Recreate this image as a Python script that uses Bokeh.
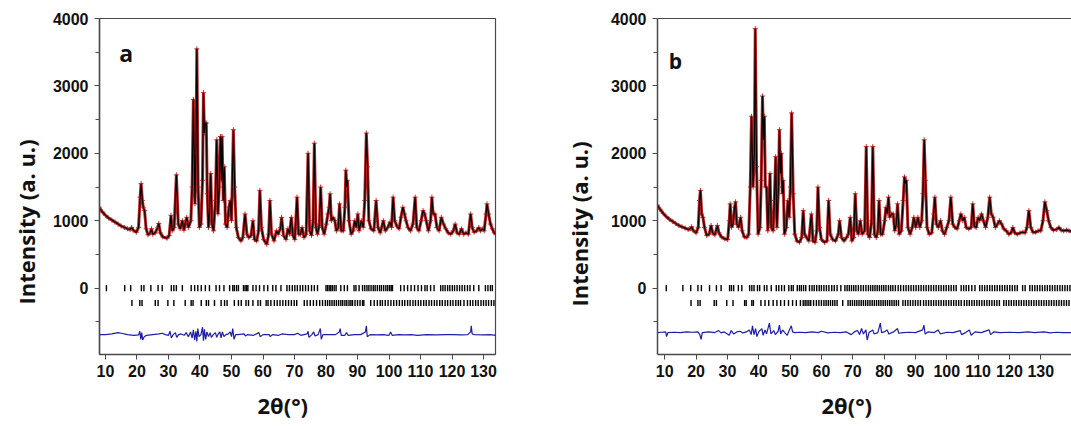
from bokeh.plotting import figure
from bokeh.layouts import row
from bokeh.models import Range1d, FixedTicker, Label, LinearAxis, Title
from bokeh.embed import file_html
from bokeh.resources import INLINE

# ---------------- Panel a data (2theta, intensity) ----------------
A_TT = [8.0, 9.0, 10.0, 11.0, 12.0, 13.0, 14.0, 15.0, 16.0, 17.0, 17.8, 18.3, 18.8, 19.8, 20.5, 21.0, 21.3, 21.7, 22.0, 22.4,
        22.9, 23.5, 24.2, 24.6, 25.0, 25.8, 26.6, 26.9, 27.4, 28.2, 29.5, 30.2, 30.8, 31.2, 31.8, 32.5, 33.1, 33.7, 34.4, 34.9,
        35.5, 35.8, 36.3, 37.1, 37.5, 37.9, 38.4, 38.7, 39.0, 39.4, 39.8, 40.3, 40.8, 41.1, 41.4, 41.7, 42.0, 42.3, 42.7, 43.1,
        43.4, 43.8, 44.3, 44.9, 45.3, 45.7, 46.1, 46.5, 46.8, 47.0, 47.4, 47.7, 48.1, 48.6, 49.2, 49.6, 50.0, 50.6, 51.0, 51.5,
        52.2, 53.0, 53.6, 54.3, 54.9, 55.5, 56.2, 56.8, 57.3, 58.0, 58.6, 59.0, 59.5, 60.2, 61.2, 61.8, 62.2, 62.7, 63.5, 64.3,
        64.8, 65.6, 65.9, 66.5, 67.3, 67.9, 68.4, 69.0, 69.5, 70.1, 70.8, 71.3, 71.9, 72.4, 73.0, 73.7, 74.3, 74.8, 75.4, 75.9,
        76.3, 76.8, 77.3, 77.9, 78.3, 78.8, 79.4, 80.1, 80.6, 81.0, 81.3, 81.7, 82.2, 82.8, 83.3, 83.9, 84.3, 84.8, 85.5, 86.0,
        86.3, 86.6, 86.8, 87.3, 88.0, 88.6, 89.1, 89.6, 90.1, 90.5, 91.2, 91.8, 92.3, 92.8, 93.2, 93.6, 94.3, 95.2, 95.9, 96.5,
        97.2, 98.2, 98.8, 99.6, 100.3, 100.8, 101.3, 101.8, 102.5, 103.2, 103.8, 104.4, 104.9, 105.4, 106.0, 106.8, 107.6, 108.3, 108.8, 109.5,
        110.2, 110.8, 111.3, 111.8, 112.5, 113.2, 113.6, 114.0, 114.6, 115.2, 115.9, 116.6, 117.3, 118.0, 118.8, 119.6, 120.4, 121.0, 121.6, 122.3,
        123.0, 123.7, 124.4, 125.2, 125.9, 126.4, 127.0, 127.8, 128.5, 129.0, 129.6, 130.2, 130.8, 131.1, 131.6, 132.2, 132.8, 133.4, 134.0]
A_OBS = [1200, 1130, 1080, 1040, 1010, 980, 950, 920, 900, 880, 870, 900, 860, 830, 900, 1350, 1550, 1300, 1200, 1150,
         880, 790, 820, 880, 800, 820, 900, 960, 820, 760, 740, 780, 1080, 850, 900, 1680, 950, 880, 1000, 860,
         1000, 1050, 900, 1000, 1500, 2800, 1250, 2000, 3550, 1500, 900, 950, 1600, 2900, 2300, 2450, 2450, 1400, 900, 1200,
         1700, 950, 850, 1300, 2200, 1100, 1500, 2250, 1600, 2250, 1300, 1800, 950, 900, 1200, 1300, 1000, 2350, 1500, 900,
         750, 700, 750, 1100, 800, 750, 780, 1000, 720, 700, 850, 1450, 900, 720, 650, 800, 1300, 800, 700, 850,
         800, 900, 1050, 780, 720, 880, 800, 1050, 780, 720, 1350, 800, 800, 900, 750, 800, 2000, 850, 780, 1000,
         2150, 900, 800, 950, 1500, 900, 800, 950, 1100, 1200, 1400, 1000, 1050, 1000, 850, 900, 1250, 850, 850, 1200,
         1750, 1500, 1600, 1000, 800, 850, 1000, 900, 1100, 850, 1000, 900, 1300, 2300, 1800, 1000, 880, 850, 1300, 900,
         820, 1000, 850, 900, 980, 900, 1350, 1000, 920, 880, 1050, 1200, 1100, 1000, 900, 850, 950, 1350, 900, 850,
         1000, 1150, 1100, 1000, 850, 1000, 1350, 1100, 1100, 900, 850, 1050, 950, 880, 820, 800, 850, 950, 820, 800,
         880, 800, 820, 800, 1100, 900, 830, 850, 900, 850, 880, 850, 1100, 1250, 1100, 950, 880, 820, 800]
A_DIFF_TT = [8, 10, 12, 14, 15, 17, 19, 20.5, 20.9, 21.2, 21.5, 21.8, 22.3, 23, 25, 27, 28, 29, 30, 30.5,
             30.9, 31.5, 32.2, 32.6, 33.2, 34, 35, 35.6, 36.3, 37.0, 37.5, 37.9, 38.3, 38.7, 39.0, 39.3, 39.7, 40.3, 40.8, 41.1,
             41.4, 41.8, 42.2, 42.7, 43.2, 43.6, 44.2, 44.9, 45.3, 45.8, 46.3, 46.7, 47.1, 47.6, 48.2, 49.0, 49.6, 50.0, 50.4, 50.8,
             51.3, 52, 54, 54.4, 55, 57, 58.7, 59.1, 60, 62, 62.3, 63, 65, 66, 68, 70, 71, 72, 74, 74.3,
             74.6, 75.5, 76.1, 76.5, 77.5, 78.2, 78.5, 79, 81, 83, 84.2, 84.5, 84.8, 86, 86.5, 87, 89, 91, 92.5, 92.8,
             93.1, 94, 96, 98, 100, 100.5, 101, 103, 105, 107, 109, 112, 115, 118, 120, 123, 125, 125.9, 126.1, 126.4,
             127, 130, 132, 134]
A_DIFF = [-690, -690, -680, -660, -670, -690, -700, -695, -640, -760, -660, -770, -720, -700, -690, -680, -670, -690, -700, -640,
          -740, -690, -660, -730, -690, -680, -700, -660, -720, -650, -740, -620, -770, -640, -790, -600, -720, -690, -580, -780,
          -610, -760, -650, -720, -660, -730, -690, -660, -730, -680, -650, -740, -650, -720, -690, -680, -650, -720, -600, -760,
          -690, -690, -680, -710, -690, -700, -660, -720, -690, -690, -720, -690, -700, -680, -690, -690, -670, -700, -680, -640,
          -730, -690, -650, -710, -690, -600, -760, -690, -690, -690, -650, -600, -700, -700, -660, -700, -690, -690, -650, -560,
          -720, -690, -695, -690, -700, -650, -700, -690, -695, -690, -700, -690, -695, -690, -690, -695, -690, -650, -560, -680,
          -690, -695, -690, -700]
A_HKL1 = [10.3, 16.1, 18.0, 21.4, 22.2, 24.4, 26.7, 28.0, 30.9, 31.7, 32.5, 34.4, 37.2, 38.3, 39.3, 40.4, 41.7, 43.0, 45.1, 46.2,
          47.6, 49.4, 50.4, 50.9, 51.6, 52.2, 53.8, 54.3, 54.8, 55.2, 56.8, 57.8, 58.9, 60.3, 61.5, 63.1, 64.1, 65.7, 67.6, 68.4,
          69.3, 70.1, 70.9, 71.8, 72.6, 73.5, 74.4, 75.4, 76.3, 77.3, 80.0, 80.5, 81.0, 81.5, 82.0, 82.6, 83.2, 84.7, 85.8, 86.8,
          88.9, 89.5, 90.5, 91.6, 92.3, 93.0, 93.6, 94.3, 95.0, 95.6, 96.3, 97.0, 97.6, 98.3, 99.0, 99.6, 100.2, 100.7, 101.1, 103.7,
          104.8, 105.9, 107.0, 108.1, 109.2, 110.3, 111.4, 112.1, 113.2, 114.3, 116.4, 117.1, 117.8, 118.6, 119.3, 120.1, 120.8, 121.6, 122.4, 123.2,
          124.0, 124.9, 125.7, 126.9, 128.5, 130.6, 131.4, 132.2, 132.8]
A_HKL2 = [18.4, 20.9, 21.6, 25.8, 26.7, 29.8, 31.7, 35.3, 37.2, 37.8, 40.4, 42.0, 42.7, 44.6, 46.7, 47.8, 48.6, 50.9, 52.2, 53.1,
          54.6, 55.4, 56.8, 58.4, 59.2, 61.0, 61.6, 62.5, 63.6, 64.5, 65.4, 66.3, 67.2, 68.1, 69.0, 69.9, 70.7, 73.1, 74.0, 75.0,
          76.0, 77.0, 78.0, 78.9, 79.8, 80.5, 81.2, 81.9, 82.6, 83.3, 84.0, 84.7, 85.3, 86.0, 86.6, 87.3, 87.9, 88.4, 89.2, 90.0,
          90.8, 91.6, 92.0, 94.2, 95.3, 96.3, 97.2, 97.9, 98.8, 99.7, 100.6, 101.5, 102.4, 103.3, 104.2, 105.0, 105.9, 106.7, 107.6, 108.4,
          109.3, 110.1, 111.0, 111.8, 112.7, 113.5, 114.4, 115.2, 116.1, 116.9, 117.8, 118.6, 119.5, 120.3, 121.2, 122.0, 122.7, 123.8, 124.9, 125.8,
          126.6, 127.5, 128.3, 129.2, 130.0, 130.8, 131.6, 132.5, 133.3]

# ---------------- Panel b data ----------------
B_TT = [7.7, 8.5, 9.5, 10.5, 11.5, 12.5, 13.5, 14.5, 15.5, 16.5, 17.5, 18.2, 18.6, 19.0, 20.0, 20.7, 21.1, 21.4, 21.8, 22.2,
        22.7, 23.4, 24.2, 24.8, 25.3, 26.0, 26.8, 27.3, 28.1, 29.2, 30.1, 30.6, 30.9, 31.3, 31.8, 32.3, 32.6, 33.0, 33.6, 34.2,
        34.7, 35.4, 36.2, 36.8, 37.3, 37.7, 38.2, 38.6, 38.9, 39.3, 39.8, 40.4, 40.8, 41.2, 41.5, 41.8, 42.1, 42.5, 42.9, 43.3,
        43.6, 44.0, 44.6, 45.0, 45.4, 45.8, 46.3, 46.6, 46.9, 47.2, 47.5, 47.8, 48.2, 48.8, 49.3, 49.7, 50.1, 50.5, 51.0, 51.5,
        52.2, 53.0, 53.7, 54.2, 54.6, 55.3, 56.0, 56.8, 57.3, 58.0, 58.5, 58.9, 59.4, 60.0, 61.0, 61.8, 62.3, 62.8, 63.6, 64.5,
        65.4, 65.8, 66.4, 67.2, 68.0, 68.6, 69.2, 69.7, 70.3, 70.8, 71.3, 71.8, 72.4, 73.0, 73.8, 74.3, 74.8, 75.4, 76.0, 76.4,
        76.9, 77.5, 78.0, 78.4, 78.9, 79.5, 80.2, 80.6, 81.0, 81.4, 81.8, 82.4, 82.9, 83.4, 83.9, 84.3, 84.8, 85.5, 86.1, 86.5,
        86.8, 87.1, 87.6, 88.3, 89.0, 89.5, 90.1, 90.8, 91.4, 92.0, 92.4, 92.8, 93.2, 93.7, 94.4, 95.2, 95.8, 96.2, 96.7, 97.3,
        98.0, 98.6, 99.3, 100.0, 100.7, 101.3, 101.9, 102.6, 103.3, 104.0, 104.5, 105.1, 105.6, 106.2, 107.0, 107.8, 108.3, 108.8, 109.4, 110.0,
        110.5, 111.1, 111.7, 112.4, 113.1, 113.7, 114.2, 114.8, 115.5, 116.2, 116.8, 117.5, 118.2, 119.0, 119.8, 120.5, 121.1, 121.7, 122.5, 123.4,
        124.3, 125.0, 125.6, 126.2, 126.8, 127.5, 128.4, 129.2, 130.0, 130.7, 131.3, 131.9, 132.5, 133.2, 134.0, 135.0, 135.8, 136.5, 137.3, 138.2,
        139.0, 139.8]
B_OBS = [1230, 1170, 1110, 1060, 1020, 990, 960, 930, 910, 890, 870, 880, 910, 860, 820, 900, 1300, 1450, 1100, 1050,
         900, 780, 800, 930, 820, 790, 930, 820, 760, 730, 720, 1000, 1250, 900, 950, 1200, 1280, 950, 900, 1050,
         850, 760, 750, 800, 1500, 2550, 1500, 2000, 3850, 1800, 800, 900, 1600, 2850, 2200, 2550, 1500, 1500, 850, 1300,
         1700, 900, 850, 1300, 1950, 900, 1500, 2350, 1700, 2000, 1400, 1600, 800, 900, 1300, 1050, 1500, 2600, 1400, 800,
         700, 680, 750, 1150, 800, 750, 700, 1100, 700, 680, 850, 1500, 900, 720, 680, 700, 1300, 800, 720, 700,
         800, 1000, 750, 700, 750, 800, 1050, 700, 750, 1400, 850, 800, 1000, 800, 850, 2100, 800, 750, 1000, 2100,
         800, 750, 850, 1300, 800, 800, 1000, 1200, 1100, 1350, 1050, 1100, 1100, 850, 950, 1250, 800, 850, 1300, 1650,
         1550, 1600, 900, 800, 900, 1050, 900, 1050, 900, 1000, 1400, 2200, 1600, 900, 800, 820, 1100, 1350, 950, 900,
         1000, 850, 800, 900, 1000, 1350, 950, 900, 880, 1000, 1100, 1000, 1050, 900, 880, 900, 1250, 920, 900, 1050,
         1000, 1100, 1000, 900, 1050, 1350, 1100, 1050, 900, 950, 1000, 950, 880, 850, 800, 820, 900, 820, 800, 820,
         830, 820, 900, 1150, 900, 830, 830, 850, 850, 1000, 1280, 1150, 1000, 900, 860, 870, 900, 860, 850, 860,
         850, 840]
B_DIFF_TT = [7.7, 9, 10.3, 10.6, 11, 13, 15, 17, 19, 20.6, 21.2, 21.6, 22.0, 24, 26, 27.2, 28, 29, 30.6, 31.2,
             32, 33, 34, 35, 36, 37, 37.6, 38, 38.5, 39, 39.4, 40, 41, 41.4, 42, 42.5, 43.4, 43.9, 44.8, 45.3,
             46.2, 46.6, 47.0, 47.6, 48.3, 49.1, 49.6, 50.4, 50.8, 51.5, 53, 55, 57, 59, 60, 62, 64, 66, 68, 69.5,
             70.5, 71.5, 72.2, 72.8, 73.4, 74.2, 74.6, 75.2, 76.4, 76.8, 78, 78.8, 79.2, 80, 81, 81.5, 83, 84.3, 84.7, 86,
             88, 90, 92.3, 92.7, 93.1, 94, 96, 97.2, 98, 100, 102, 104.3, 104.7, 106, 107.2, 107.8, 109, 111, 113.5, 114.0,
             115, 117, 120, 123, 126, 128, 131, 133, 135, 137, 139.8]
B_DIFF = [-660, -655, -650, -720, -660, -655, -660, -650, -655, -650, -690, -760, -660, -650, -660, -630, -665, -650, -700, -630,
          -680, -650, -640, -665, -650, -620, -690, -560, -690, -600, -720, -650, -600, -700, -620, -680, -520, -680, -630, -690,
          -640, -550, -680, -620, -660, -700, -640, -560, -650, -660, -655, -660, -650, -660, -640, -665, -655, -660, -650, -690,
          -650, -630, -690, -600, -680, -620, -770, -660, -620, -680, -660, -520, -660, -650, -620, -680, -650, -600, -670, -660,
          -655, -660, -620, -550, -680, -650, -660, -620, -680, -655, -660, -630, -690, -660, -620, -700, -650, -660, -620, -690,
          -650, -660, -655, -660, -650, -660, -650, -665, -655, -660, -660]
B_HKL1 = [10.5, 15.8, 18.3, 20.6, 21.7, 24.3, 26.5, 28.0, 30.7, 31.3, 32.0, 33.5, 34.6, 37.1, 37.8, 38.5, 39.6, 40.3, 41.8, 42.6,
          44.0, 45.6, 46.4, 47.3, 48.2, 49.6, 50.4, 51.0, 52.3, 53.0, 53.6, 54.3, 55.0, 56.2, 57.0, 57.7, 58.5, 59.3, 60.0, 60.8,
          61.6, 62.4, 63.3, 64.1, 65.0, 66.2, 67.5, 68.2, 68.9, 69.6, 70.3, 71.0, 71.8, 72.6, 73.4, 74.2, 75.0, 75.7, 76.4, 77.1,
          77.8, 78.5, 79.2, 79.9, 80.6, 81.4, 82.1, 82.8, 83.6, 84.5, 85.3, 86.2, 87.0, 87.8, 88.6, 89.4, 90.2, 91.0, 91.8, 92.6,
          93.4, 94.2, 95.0, 95.8, 96.6, 97.4, 98.2, 99.0, 99.8, 100.6, 101.4, 102.2, 103.0, 104.6, 105.4, 106.2, 107.0, 108.0, 109.0, 110.5,
          111.3, 112.1, 112.9, 113.7, 114.5, 115.3, 116.1, 116.9, 117.7, 118.5, 119.3, 120.1, 120.9, 121.7, 122.5, 124.2, 125.0, 126.5, 127.3, 128.1,
          128.9, 129.7, 130.5, 131.3, 132.1, 132.9, 133.7, 134.5, 135.3, 136.1, 136.9, 137.7, 138.5, 139.3]
B_HKL2 = [18.4, 20.6, 21.3, 25.8, 26.5, 29.8, 31.8, 35.5, 36.0, 37.8, 38.3, 40.7, 42.0, 43.2, 44.6, 45.8, 47.0, 48.2, 49.5, 50.8,
          52.0, 53.3, 54.2, 54.8, 55.4, 56.0, 56.6, 57.5, 58.4, 59.2, 60.0, 60.8, 61.5, 62.2, 62.9, 63.6, 64.3, 65.0, 66.8, 68.5,
          69.2, 69.9, 70.6, 71.3, 72.0, 72.7, 73.4, 74.1, 74.8, 75.5, 76.2, 76.9, 77.6, 78.3, 79.0, 79.7, 80.4, 81.1, 81.8, 82.5,
          83.2, 83.9, 84.6, 86.0, 86.8, 87.6, 88.4, 89.2, 90.0, 90.8, 91.6, 92.6, 93.4, 94.2, 95.0, 95.8, 96.6, 97.4, 98.2, 99.0,
          99.8, 100.6, 101.4, 102.2, 103.0, 103.8, 104.6, 105.6, 106.4, 107.2, 108.0, 108.8, 109.6, 110.4, 111.2, 112.0, 112.8, 113.6, 114.4, 115.2,
          116.0, 116.8, 118.2, 119.0, 119.8, 120.6, 121.4, 122.2, 123.0, 123.8, 124.6, 125.4, 126.2, 127.0, 127.8, 128.6, 129.4, 130.2, 131.0, 131.8,
          132.6, 133.4, 134.2, 135.0, 135.8, 136.6, 137.4, 138.2, 139.0]

Y_TICKS = [0, 1000, 2000, 3000, 4000]
Y_MINOR = [-500, 500, 1500, 2500, 3500]
X_TICKS = [10, 20, 30, 40, 50, 60, 70, 80, 90, 100, 110, 120, 130]
Y_TITLE = "Intensity (a. u.)"
X_TITLE = "2θ(°)"

TICK_FONT = "Liberation Sans"
LABEL_FONT = "Open Sans"
AXIS_COLOR = "#4a4a4a"
OBS_COLOR = "#b3211f"
DIFF_COLOR = "#1e1ea6"


def style_axes(p):
    p.xgrid.visible = False
    p.ygrid.visible = False
    for ax in (p.xaxis[0], p.yaxis[0]):
        ax.axis_line_color = AXIS_COLOR
        ax.axis_line_width = 1.5
        ax.major_tick_line_color = AXIS_COLOR
        ax.minor_tick_line_color = AXIS_COLOR
        ax.major_tick_in = 0
        ax.minor_tick_in = 0
        ax.major_label_text_font = TICK_FONT
        ax.major_label_text_font_style = "bold"
        ax.major_label_text_font_size = "16px"
        ax.major_label_text_color = "#111111"
    p.xaxis[0].ticker = FixedTicker(ticks=X_TICKS)
    p.xaxis[0].major_tick_out = 5
    p.xaxis[0].minor_tick_out = 0
    p.xaxis[0].major_label_standoff = 5
    p.yaxis[0].ticker = FixedTicker(ticks=Y_TICKS, minor_ticks=Y_MINOR)
    p.yaxis[0].major_tick_out = 5
    p.yaxis[0].minor_tick_out = 4
    p.yaxis[0].major_label_standoff = 6


def draw(p, tt, obs, dtt, diff, hkl1, hkl2):
    p.line(tt, obs, line_color=OBS_COLOR, line_width=3)
    p.scatter(tt, obs, marker="cross", size=5, line_color="#d02a28", line_width=1)
    p.line(tt, obs, line_color="black", line_width=1.1)
    p.segment(x0=hkl1, y0=[-45] * len(hkl1), x1=hkl1, y1=[45] * len(hkl1),
              line_color="black", line_width=1.4)
    p.segment(x0=hkl2, y0=[-265] * len(hkl2), x1=hkl2, y1=[-175] * len(hkl2),
              line_color="black", line_width=1.4)
    p.line(dtt, diff, line_color=DIFF_COLOR, line_width=1.2)


def add_labels(p, y_off, y_stand, x_off, x_stand, letter, lx, ly, lsize):
    ty = Title(text=Y_TITLE, align="left", offset=y_off,
               text_font=LABEL_FONT, text_font_style="bold",
               text_font_size="22px", text_color="#111111")
    tx = Title(text=X_TITLE, align="left", offset=x_off,
               text_font=LABEL_FONT, text_font_style="bold",
               text_font_size="22px", text_color="#111111")
    try:
        ty.standoff = y_stand
        tx.standoff = x_stand
    except Exception:
        pass
    p.add_layout(ty, "left")
    p.add_layout(tx, "below")
    p.add_layout(Label(x=lx, y=ly, text=letter, text_align="left",
                       text_baseline="alphabetic", text_font=LABEL_FONT,
                       text_font_style="bold", text_font_size=lsize,
                       text_color="#111111"))


# ---- panel a ----
pa = figure(width=548, height=429, x_range=Range1d(8.1, 133.8), y_range=Range1d(-985, 4000),
            output_backend="svg", toolbar_location=None,
            min_border_left=98, min_border_right=53, min_border_top=18, min_border_bottom=75)
pa.outline_line_color = AXIS_COLOR
pa.outline_line_width = 1.2
style_axes(pa)
draw(pa, A_TT, A_OBS, A_DIFF_TT, A_DIFF, A_HKL1, A_HKL2)
add_labels(pa, 50, 17, 158, 16, "a", 14.4, 3490, "23px")

# ---- panel b ----
pb = figure(width=523, height=429, x_range=Range1d(7.7, 139.8), y_range=Range1d(-985, 4000),
            output_backend="svg", toolbar_location=None,
            min_border_left=108, min_border_right=0, min_border_top=18, min_border_bottom=75)
pb.outline_line_color = None
style_axes(pb)
top = LinearAxis(ticker=FixedTicker(ticks=[]), axis_line_color=AXIS_COLOR, axis_line_width=1.2,
                 major_tick_out=0, minor_tick_out=0, major_label_standoff=0,
                 major_label_text_font_size="0px")
pb.add_layout(top, "above")
draw(pb, B_TT, B_OBS, B_DIFF_TT, B_DIFF, B_HKL1, B_HKL2)
add_labels(pb, 48, 27, 164, 16, "b", 11.3, 3375, "21px")

layout = row(pa, pb)
open("out.html", "w").write(file_html(layout, INLINE))
